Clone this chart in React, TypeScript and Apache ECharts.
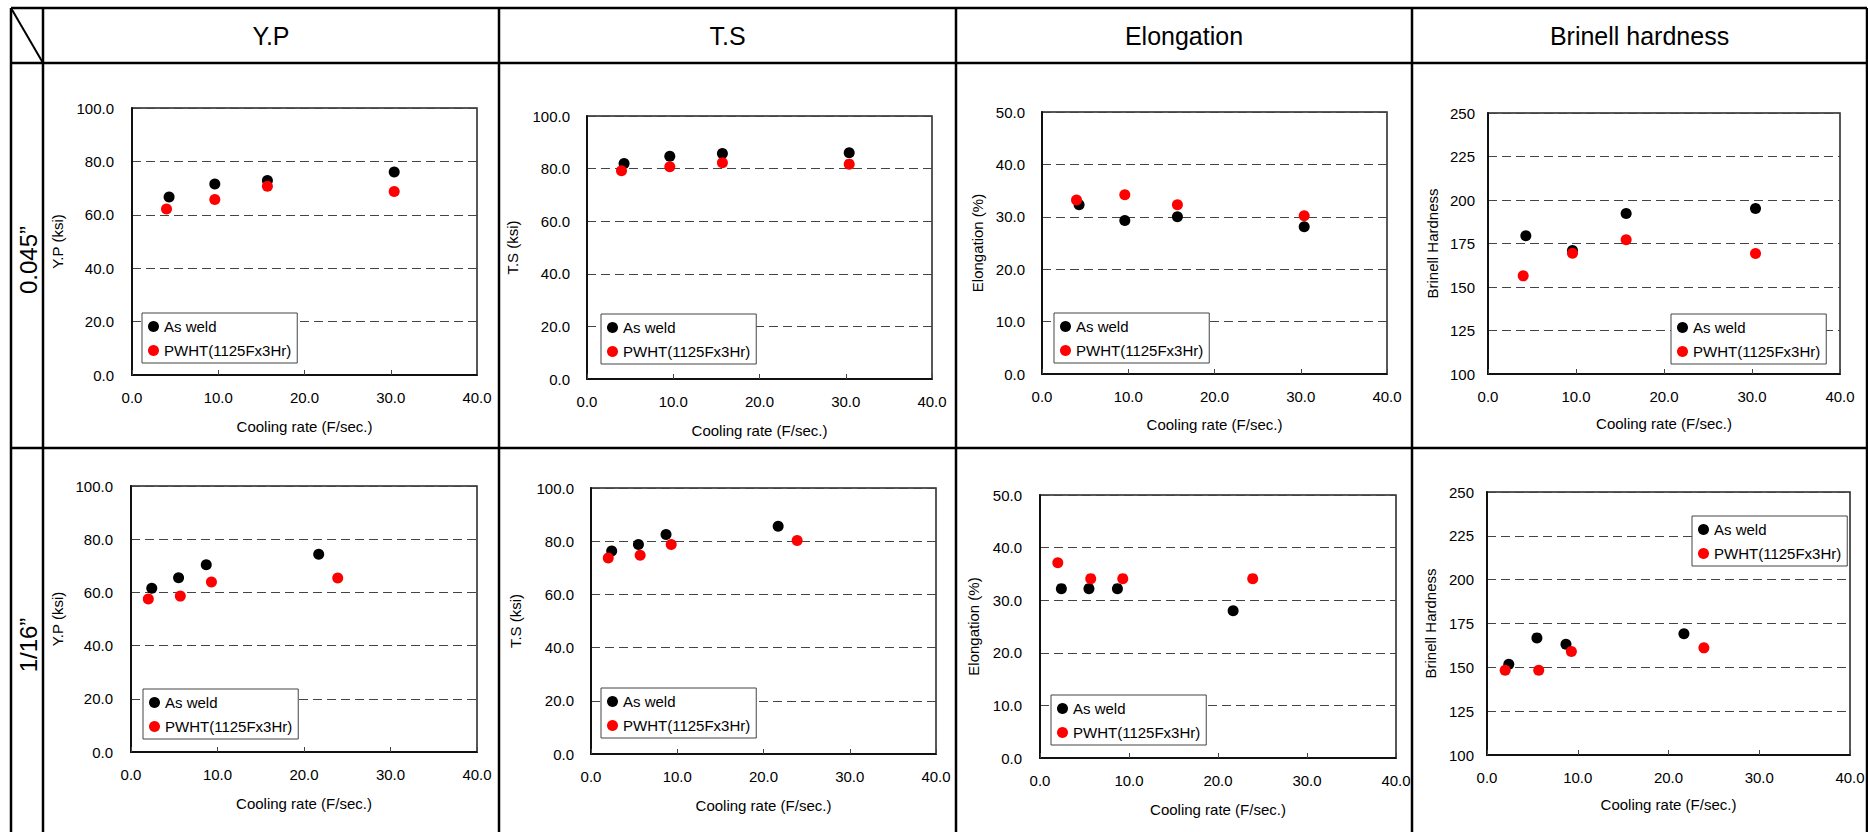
import React, { useEffect, useRef } from "react";
import * as echarts from "echarts";

// ---- Data ----
const COLUMN_TITLES = ["Y.P", "T.S", "Elongation", "Brinell hardness"];
const ROW_TITLES = ["0.045\u201D", "1/16\u201D"];
const SERIES_NAMES = ["As weld", "PWHT(1125Fx3Hr)"];
const X_AXIS_NAME = "Cooling rate (F/sec.)";
const Y_AXIS_NAMES = ["Y.P (ksi)", "T.S (ksi)", "Elongation (%)", "Brinell Hardness"];

// cooling rates (x)
const ROW1_X_AW = [4.3, 9.6, 15.7, 30.4];
const ROW1_X_PW = [4.0, 9.6, 15.7, 30.4];
const ROW2_X_AW = [2.4, 5.5, 8.7, 21.7];
const ROW2_X_PW = [2.0, 5.7, 9.3, 23.9];

// row 1 (0.045")
const YP1_AW = [66.7, 71.5, 72.8, 76.0];
const YP1_PW = [62.2, 65.7, 70.7, 68.7];
const TS1_AW = [81.9, 84.7, 85.7, 86.0];
const TS1_PW = [79.2, 80.7, 82.2, 81.7];
const EL1_AW = [32.3, 29.3, 30.0, 28.1];
const EL1_PW = [33.2, 34.2, 32.3, 30.2];
const BH1_AW = [179.4, 171.0, 192.3, 195.1];
const BH1_PW = [156.4, 169.4, 177.1, 169.2];

// row 2 (1/16")
const YP2_AW = [61.6, 65.5, 70.4, 74.3];
const YP2_PW = [57.5, 58.6, 63.9, 65.4];
const TS2_AW = [76.3, 78.8, 82.5, 85.6];
const TS2_PW = [73.7, 74.7, 78.8, 80.3];
const EL2_AW = [32.2, 32.2, 32.2, 28.0];
const EL2_PW = [37.1, 34.1, 34.1, 34.1];
const BH2_AW = [151.8, 166.8, 163.2, 169.1];
const BH2_PW = [148.4, 148.4, 159.0, 161.1];

// axis ranges per column: [min, max, interval, decimals]
const Y_RANGES = [
  [0, 100, 20, 1],
  [0, 100, 20, 1],
  [0, 50, 10, 1],
  [100, 250, 25, 0],
];
const X_RANGE = [0, 40, 10];

// ---- Layout (pixel positions) ----
const FONT = '"Liberation Sans", Arial, sans-serif';
const PANELS = [
  { col: 0, l: 132, t: 108, r: 477, b: 375, yGap: 67, xGap: 44, lm: 18, lg: [142, 313], aw: YP1_AW, pw: YP1_PW, xa: ROW1_X_AW, xp: ROW1_X_PW },
  { col: 1, l: 587, t: 116, r: 932, b: 379, yGap: 67, xGap: 44, lm: 17, lg: [601, 314], aw: TS1_AW, pw: TS1_PW, xa: ROW1_X_AW, xp: ROW1_X_PW },
  { col: 2, l: 1042, t: 112, r: 1387, b: 374, yGap: 57, xGap: 43, lm: 17, lg: [1054, 313], aw: EL1_AW, pw: EL1_PW, xa: ROW1_X_AW, xp: ROW1_X_PW },
  { col: 3, l: 1488, t: 113, r: 1840, b: 374, yGap: 48, xGap: 42, lm: 13, lg: [1671, 314], aw: BH1_AW, pw: BH1_PW, xa: ROW1_X_AW, xp: ROW1_X_PW },
  { col: 0, l: 131, t: 486, r: 477, b: 752, yGap: 66, xGap: 44, lm: 18, lg: [143, 689], aw: YP2_AW, pw: YP2_PW, xa: ROW2_X_AW, xp: ROW2_X_PW },
  { col: 1, l: 591, t: 488, r: 936, b: 754, yGap: 68, xGap: 44, lm: 17, lg: [601, 688], aw: TS2_AW, pw: TS2_PW, xa: ROW2_X_AW, xp: ROW2_X_PW },
  { col: 2, l: 1040, t: 495, r: 1396, b: 758, yGap: 59, xGap: 44, lm: 18, lg: [1051, 695], aw: EL2_AW, pw: EL2_PW, xa: ROW2_X_AW, xp: ROW2_X_PW },
  { col: 3, l: 1487, t: 492, r: 1850, b: 755, yGap: 49, xGap: 42, lm: 13, lg: [1692, 516], aw: BH2_AW, pw: BH2_PW, xa: ROW2_X_AW, xp: ROW2_X_PW },
];

const COL_X = [11, 43, 499, 956, 1412, 1867];
const ROW_Y = [8, 63, 448];
const LINE_W = 2.5;

function buildOption() {
  const grid: any[] = [];
  const xAxis: any[] = [];
  const yAxis: any[] = [];
  const series: any[] = [];
  const legend: any[] = [];
  const textStyle = { fontFamily: FONT, fontSize: 15, color: "#000" };

  PANELS.forEach((p, i) => {
    const [ymin, ymax, yint, dec] = Y_RANGES[p.col];
    grid.push({
      left: p.l,
      top: p.t,
      width: p.r - p.l,
      height: p.b - p.t,
      show: true,
      borderColor: "#222",
      borderWidth: 1.5,
      backgroundColor: "#fff",
    });
    xAxis.push({
      type: "value",
      gridIndex: i,
      min: X_RANGE[0],
      max: X_RANGE[1],
      interval: X_RANGE[2],
      name: X_AXIS_NAME,
      nameLocation: "middle",
      nameGap: p.xGap,
      nameTextStyle: { ...textStyle },
      axisLine: { show: true, lineStyle: { color: "#111", width: 2 } },
      axisTick: { show: true, inside: true, length: 5, lineStyle: { color: "#444", width: 1 } },
      axisLabel: { ...textStyle, margin: 15, formatter: (v: number) => v.toFixed(1) },
      splitLine: { show: false },
    });
    yAxis.push({
      type: "value",
      gridIndex: i,
      min: ymin,
      max: ymax,
      interval: yint,
      name: Y_AXIS_NAMES[p.col],
      nameLocation: "middle",
      nameGap: p.yGap,
      nameTextStyle: { ...textStyle },
      axisLine: { show: true, lineStyle: { color: "#111", width: 2 } },
      axisTick: { show: false },
      axisLabel: { ...textStyle, margin: p.lm, formatter: (v: number) => v.toFixed(dec) },
      splitLine: { show: true, lineStyle: { color: "#444", width: 1, type: [9, 5] } },
    });
    series.push({
      type: "scatter",
      name: SERIES_NAMES[0],
      xAxisIndex: i,
      yAxisIndex: i,
      symbol: "circle",
      symbolSize: 11,
      itemStyle: { color: "#000", opacity: 1 },
      data: p.xa.map((x, k) => [x, p.aw[k]]),
      z: 3,
    });
    series.push({
      type: "scatter",
      name: SERIES_NAMES[1],
      xAxisIndex: i,
      yAxisIndex: i,
      symbol: "circle",
      symbolSize: 11,
      itemStyle: { color: "#ff0000", opacity: 1 },
      data: p.xp.map((x, k) => [x, p.pw[k]]),
      z: 4,
    });
    legend.push({
      left: p.lg[0],
      top: p.lg[1],
      orient: "vertical",
      data: SERIES_NAMES,
      icon: "circle",
      itemWidth: 11,
      itemHeight: 11,
      itemGap: 9,
      padding: [6, 6, 5, 6],
      borderColor: "#444",
      borderWidth: 1,
      backgroundColor: "#fff",
      selectedMode: false,
      itemStyle: { opacity: 1 },
      textStyle: { ...textStyle },
      z: 5,
    });
  });

  const lineStyle = { stroke: "#000", lineWidth: LINE_W };
  const graphics: any[] = [];
  ROW_Y.forEach((y) => {
    graphics.push({ type: "line", shape: { x1: COL_X[0], y1: y, x2: COL_X[5], y2: y }, style: lineStyle, z: 10 });
  });
  COL_X.forEach((x) => {
    graphics.push({ type: "line", shape: { x1: x, y1: ROW_Y[0], x2: x, y2: 840 }, style: lineStyle, z: 10 });
  });
  graphics.push({ type: "line", shape: { x1: COL_X[0], y1: ROW_Y[0], x2: COL_X[1], y2: ROW_Y[1] }, style: { stroke: "#000", lineWidth: 2 }, z: 10 });
  COLUMN_TITLES.forEach((t, i) => {
    graphics.push({
      type: "text",
      x: (COL_X[i + 1] + COL_X[i + 2]) / 2,
      y: 36,
      style: { text: t, fontFamily: FONT, fontSize: 25, fill: "#000", align: "center", verticalAlign: "middle" },
      z: 10,
    });
  });
  const rowCenters = [260, 645];
  ROW_TITLES.forEach((t, i) => {
    graphics.push({
      type: "text",
      x: 28,
      y: rowCenters[i],
      rotation: Math.PI / 2,
      style: { text: t, fontFamily: FONT, fontSize: 24, fill: "#000", align: "center", verticalAlign: "middle" },
      z: 10,
    });
  });

  return {
    animation: false,
    backgroundColor: "#fff",
    grid,
    xAxis,
    yAxis,
    series,
    legend,
    graphic: graphics,
  };
}

export default function App() {
  const ref = useRef<HTMLDivElement>(null);
  useEffect(() => {
    if (!ref.current) return;
    const chart = echarts.init(ref.current, undefined, { renderer: "svg" });
    chart.setOption(buildOption());
    return () => chart.dispose();
  }, []);
  return (
    <div
      ref={ref}
      style={{ position: "absolute", left: 0, top: 0, width: 1868, height: 832, background: "#fff" }}
    />
  );
}
